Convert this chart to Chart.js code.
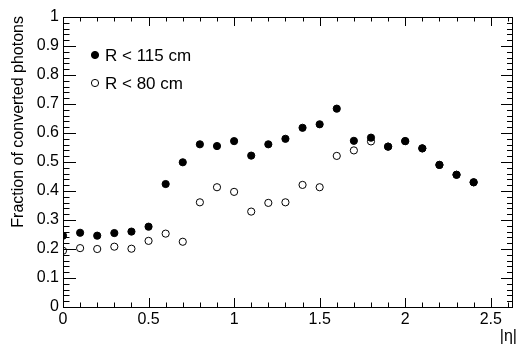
<!DOCTYPE html>
<html>
<head>
<meta charset="utf-8">
<script src="https://cdn.jsdelivr.net/npm/chart.js@4.4.1/dist/chart.umd.min.js"></script>
<style>
  html, body { margin: 0; padding: 0; background: #fff; }
  canvas { display: block; }
</style>
</head>
<body>
<canvas id="grafico" width="518" height="345"></canvas>
<script>
// |eta| bins
const eta = [0, 0.1, 0.2, 0.3, 0.4, 0.5, 0.6, 0.7, 0.8, 0.9, 1.0, 1.1, 1.2,
             1.3, 1.4, 1.5, 1.6, 1.7, 1.8, 1.9, 2.0, 2.1, 2.2, 2.3, 2.4];
// fraction of converted photons, R < 115 cm (filled)
const fracR115 = [0.246, 0.256, 0.246, 0.255, 0.260, 0.277, 0.424, 0.499, 0.561, 0.555,
                  0.572, 0.522, 0.561, 0.580, 0.618, 0.630, 0.684, 0.573, 0.584, 0.553,
                  0.572, 0.547, 0.490, 0.456, 0.430];
// fraction of converted photons, R < 80 cm (open); above 1.8 hidden under the filled ones
const fracR80 = [0.194, 0.203, 0.200, 0.208, 0.201, 0.228, 0.253, 0.225, 0.361, 0.413,
                 0.397, 0.329, 0.359, 0.361, 0.421, 0.413, 0.521, 0.540, 0.571, 0.553,
                 0.572, 0.547, 0.490, 0.456, 0.430];
const xTicks = [0, 0.5, 1, 1.5, 2, 2.5];
const yTicks = [0, 0.1, 0.2, 0.3, 0.4, 0.5, 0.6, 0.7, 0.8, 0.9, 1];

const fuente = '"Liberation Sans", Arial, Helvetica, sans-serif';

function puntos(ys) {
    return eta.map((x, i) => ({ x: x, y: ys[i] }));
}

// ROOT-like frame, inward ticks, titles and legend
const marcoRoot = {
    id: 'marcoRoot',
    afterDraw(chart) {
        const ctx = chart.ctx;
        const a = chart.chartArea;
        const sx = chart.scales.x;
        const sy = chart.scales.y;
        ctx.save();
        ctx.strokeStyle = '#000';
        ctx.lineWidth = 1;
        ctx.strokeRect(a.left + 0.5, a.top + 0.5, a.right - a.left - 1, a.bottom - a.top);

        ctx.beginPath();
        for (let i = 0; i <= 26; i++) {
            const v = i / 10;
            const px = Math.round(sx.getPixelForValue(v)) + 0.5;
            if (px > a.right) break;
            const len = (i % 5 === 0) ? 9 : 4.5;
            ctx.moveTo(px, a.bottom);
            ctx.lineTo(px, a.bottom - len);
            ctx.moveTo(px, a.top);
            ctx.lineTo(px, a.top + len);
        }
        for (let i = 0; i <= 50; i++) {
            const v = i / 50;
            const py = Math.round(sy.getPixelForValue(v)) + 0.5;
            const major = (i % 5 === 0);
            ctx.moveTo(a.left, py);
            ctx.lineTo(a.left + (major ? 13 : 6.5), py);
            ctx.moveTo(a.right, py);
            ctx.lineTo(a.right - (major ? 12 : 6), py);
        }
        ctx.stroke();

        ctx.fillStyle = '#000';
        ctx.font = '16px ' + fuente;
        // y title
        ctx.save();
        ctx.translate(19, 16);
        ctx.rotate(-Math.PI / 2);
        ctx.textAlign = 'right';
        ctx.textBaseline = 'middle';
        ctx.fillText('Fraction of converted photons', 0, 0);
        ctx.restore();
        // x title
        ctx.textAlign = 'right';
        ctx.textBaseline = 'middle';
        ctx.fillText('|\u03b7|', 517, 337);

        // legend
        ctx.textAlign = 'left';
        chart.data.datasets.forEach((ds, i) => {
            const ly = 55 + i * 28;
            ctx.beginPath();
            ctx.arc(95, ly, 3.6, 0, Math.PI * 2);
            if (ds.pointBackgroundColor !== 'rgba(0,0,0,0)') {
                ctx.fill();
            }
            ctx.stroke();
            ctx.font = '17px ' + fuente;
            ctx.fillText(ds.label, 105, ly + 1);
        });
        ctx.restore();
    }
};

new Chart(document.getElementById('grafico'), {
    type: 'scatter',
    data: {
        datasets: [{
            label: 'R < 115 cm',
            data: puntos(fracR115),
            pointStyle: 'circle',
            pointRadius: 3.6,
            pointBorderWidth: 1,
            pointBackgroundColor: '#000',
            pointBorderColor: '#000'
        }, {
            label: 'R < 80 cm',
            data: puntos(fracR80),
            pointStyle: 'circle',
            pointRadius: 3.6,
            pointBorderWidth: 1,
            pointBackgroundColor: 'rgba(0,0,0,0)',
            pointBorderColor: '#000'
        }]
    },
    options: {
        responsive: false,
        animation: false,
        devicePixelRatio: 1,
        layout: { padding: { top: 17, right: 1, left: 0, bottom: 0 } },
        plugins: {
            legend: { display: false },
            tooltip: { enabled: false }
        },
        scales: {
            x: {
                type: 'linear',
                min: 0,
                max: 2.63,
                afterFit: s => { s.height = 38; },
                afterBuildTicks: s => { s.ticks = xTicks.map(v => ({ value: v })); },
                grid: { display: false, drawTicks: false, tickLength: 0 },
                border: { display: false },
                ticks: {
                    color: '#000',
                    padding: 3,
                    maxRotation: 0,
                    autoSkip: false,
                    font: { family: fuente, size: 16 },
                    callback: v => String(v)
                }
            },
            y: {
                type: 'linear',
                min: 0,
                max: 1,
                afterFit: s => { s.width = 63; },
                afterBuildTicks: s => { s.ticks = yTicks.map(v => ({ value: v })); },
                grid: { display: false, drawTicks: false, tickLength: 0 },
                border: { display: false },
                ticks: {
                    color: '#000',
                    padding: 4,
                    autoSkip: false,
                    font: { family: fuente, size: 16 },
                    callback: v => String(+v.toFixed(1))
                }
            }
        }
    },
    plugins: [marcoRoot]
});
</script>
</body>
</html>
